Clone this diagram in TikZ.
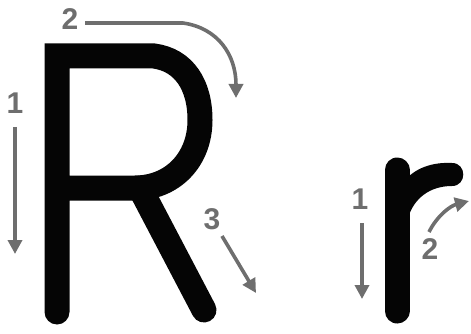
\documentclass[tikz,border=0pt]{standalone}
\usepackage{fontspec}
\setmainfont{Liberation Sans}
\usepackage{xcolor}
\usetikzlibrary{arrows.meta}
\definecolor{inkblack}{HTML}{050505}
\definecolor{guidegray}{HTML}{6E6E6E}
\begin{document}
\begin{tikzpicture}[
    x=1pt, y=-1pt,
    letterstroke/.style={draw=inkblack, line width=25pt, line cap=round, line join=round},
    guidearrow/.style={draw=guidegray, line width=3.6pt, -{Triangle[length=14pt, width=14pt]}},
    guidenum/.style={text=guidegray, font=\fontsize{30}{30}\selectfont\bfseries, inner sep=0pt}
]
\useasboundingbox (0,0) rectangle (471,334);
% capital R
\draw[letterstroke, line join=miter] (57,312) -- (57,56) -- (154,56)
    .. controls (184,60) and (200,85) .. (200,120)
    .. controls (200,160) and (172,188) .. (135,188) -- (57,188);
\draw[letterstroke] (140,188) -- (204,310);
% small r
\draw[letterstroke] (397,311) -- (397,170);
\fill[inkblack] (397,218) -- (408,218)
    .. controls (414,198) and (430,186) .. (452,186)
    .. controls (467,186) and (467,163) .. (452,163)
    .. controls (432,162) and (416,168) .. (405,180) -- (397,190) -- cycle;
% stroke order labels
\node[guidenum] (rone) at (15,103) {1};
\node[guidenum] (rtwo) at (70,19) {2};
\node[guidenum] (rthree) at (212,219) {3};
\node[guidenum] (sone) at (360,199) {1};
\node[guidenum] (stwo) at (430,249) {2};
% stroke order arrows
\draw[guidearrow] (15,127) -- (15,254);
\draw[guidearrow] (85,23) -- (183,23) .. controls (218,28) and (236,55) .. (236,98);
\draw[guidearrow] (222,236) -- (256,293);
\draw[guidearrow] (362,223) -- (362,299);
\draw[guidearrow] (429,232) .. controls (437,216) and (450,206) .. (469,201);
\end{tikzpicture}
\end{document}
